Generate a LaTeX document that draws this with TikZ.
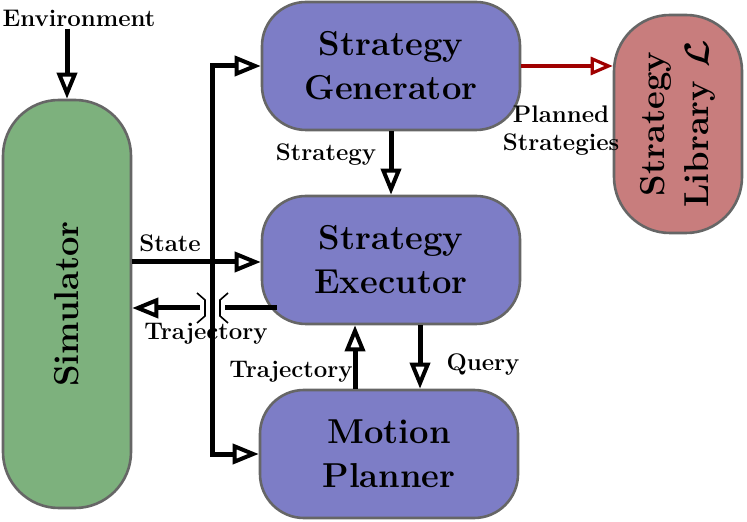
\documentclass[tikz,border=0pt]{standalone}
\usepackage{amsmath, amssymb}
\usepackage{xcolor}
\usepackage{tikz}
\usetikzlibrary{arrows.meta, positioning, calc}
\definecolor{simgreen}{RGB}{125,177,125}
\definecolor{boxviolet}{RGB}{125,125,198}
\definecolor{librose}{RGB}{200,125,125}
\definecolor{libred}{RGB}{160,0,0}
\tikzset{
  block/.style={
    rectangle, draw=black!60, line width=1.3pt,
    fill=boxviolet, font=\LARGE\bfseries, align=center,
    minimum width=129pt, minimum height=64pt, rounded corners=22pt
  },
  tallblock/.style={block, minimum height=64pt, rounded corners=28pt, rotate=90},
  flow/.style={-{Triangle[open, length=13pt, width=10pt, line width=2pt]}, line width=2.5pt},
  flowR/.style={-{Triangle[open, length=11pt, width=9pt, line width=1.6pt]}, libred, line width=1.6pt},
  lbl/.style={font=\large\bfseries, align=center, inner sep=1pt}
}
\begin{document}
\begin{tikzpicture}[x=0.5pt, y=-0.5pt]
  \useasboundingbox (0,0) rectangle (747,522);

  % Draw blocks (rotated ones: width runs along the text)
  \node[tallblock, fill=simgreen, minimum width=204pt] (sim) at (67,304) {Simulator};
  \node[block] (gen) at (391,66) {Strategy\\Generator};
  \node[block] (exec) at (391,260) {Strategy\\Executor};
  \node[block] (plan) at (389,454) {Motion\\Planner};
  \node[tallblock, fill=librose, minimum width=109pt] (lib) at (678,124) {Strategy\\Library $\boldsymbol{\mathcal{L}}$};

  % Input and bus
  \node[lbl] (env) at (79,18) {Environment};
  \draw[flow] (env.south -| sim.east) -- (sim.east);
  \coordinate (bus) at (212,260);
  \draw[flow] (bus) |- (gen.west);
  \draw[flow] (bus) |- (plan.west);

  % State and trajectory to simulator
  \draw[flow] (sim.south |- 0,262) -- (exec.west |- 0,262);
  \node[lbl] (state) at (170,243) {State};
  \coordinate (trajout) at (277,308);
  \coordinate (jumpR) at (225,308);
  \coordinate (jumpL) at (200,308);
  \draw[line width=2.5pt] (trajout) -- (jumpR);
  \draw[flow] (jumpL) -- (sim.south |- trajout);
  \draw[line width=0.8pt] (197,293) -- (205,300) -- (205,316) -- (197,323);
  \draw[line width=0.8pt] (228,293) -- (220,300) -- (220,316) -- (228,323);
  \node[lbl] (traj1) at (206,334) {Trajectory};

  % Between the blocks
  \draw[flow] (gen.south) -- (exec.north);
  \node[lbl] (strat) at (326,155) {Strategy};
  \draw[flow] ([xshift=-17pt]plan.north) -- ([xshift=-17pt]exec.south -| plan.north);
  \node[lbl] (traj2) at (291,372) {Trajectory};
  \draw[flow] ([xshift=15.5pt]exec.south -| plan.north) -- ([xshift=15.5pt]plan.north);
  \node[lbl] (query) at (483,365) {Query};

  % To the library
  \draw[flowR] (gen.east) -- (gen.east -| lib.north);
  \node[lbl] (planned) at (561,131) {Planned\\Strategies};
\end{tikzpicture}
\end{document}
